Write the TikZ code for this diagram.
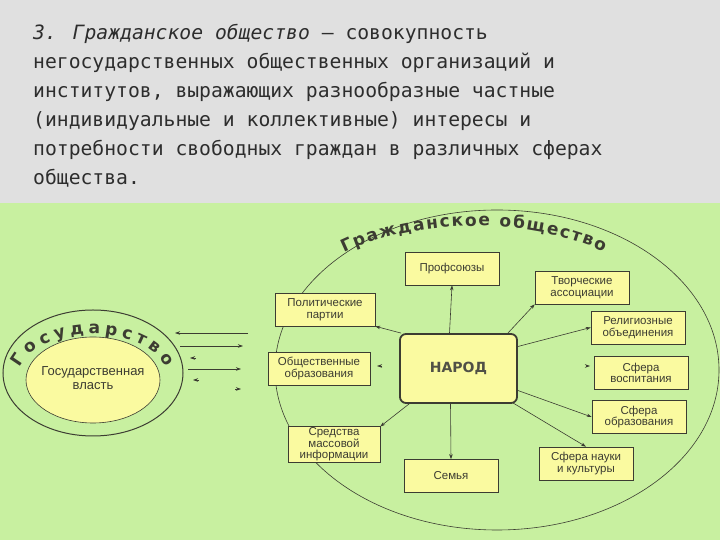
\documentclass[tikz,border=0pt]{standalone}
\usepackage{fontspec}
\setmainfont{Liberation Sans}
\newfontfamily\monof{DejaVu Sans Mono}
\newfontfamily\boldf{DejaVu Sans}
\usetikzlibrary{decorations.text,arrows.meta}
\definecolor{bggreen}{RGB}{200,240,160}
\definecolor{bggray}{RGB}{224,224,224}
\definecolor{boxy}{RGB}{250,250,160}
\definecolor{ink}{RGB}{60,60,50}
\definecolor{ttl}{RGB}{45,45,45}
\begin{document}
\begin{tikzpicture}[x=1pt,y=1pt,
  box/.style={draw=ink,fill=boxy,line width=0.6pt,minimum width=94pt,minimum height=33pt,inner sep=1pt,align=center,font=\fontsize{11.5}{11.5}\selectfont,text=ink},
  arr/.style={draw=ink,line width=0.6pt,-{Stealth[length=5pt,width=3.5pt]}},
  tline/.style={anchor=base west,inner sep=0pt,text=ttl,font=\monof\fontsize{19.7}{20}\selectfont}]
\useasboundingbox (0,0) rectangle (720,540);
\fill[bggray] (0,337) rectangle (720,540);
\fill[bggreen] (0,0) rectangle (720,337);
% title
\node[tline] (t1) at (33,500) {\itshape 3. Гражданское общество\upshape{} – совокупность};
\node[tline] (t2) at (33,471) {негосударственных общественных организаций и};
\node[tline] (t3) at (33,442) {институтов, выражающих разнообразные частные};
\node[tline] (t4) at (33,413) {(индивидуальные и коллективные) интересы и};
\node[tline] (t5) at (33,384) {потребности свободных граждан в различных сферах};
\node[tline] (t6) at (33,355) {общества.};
% ellipses
\draw[ink,line width=0.6pt] (497,170) ellipse [x radius=222,y radius=160];
\draw[ink,line width=1pt] (93,167) ellipse [x radius=90,y radius=63];
\draw[ink,line width=0.6pt,fill=boxy] (93,160) ellipse [x radius=67,y radius=43];
\node[font=\fontsize{13}{14}\selectfont,text=ink,align=center] (gv) at (93,162) {Государственная\\власть};
% curved texts
\path[decorate,decoration={text along path,text align=fit to path,
  text={|\boldf\bfseries\fontsize{17}{17}\selectfont\color{ink}|Гражданское общество}}]
  (475,204) ++(131:200 and 110) arc [start angle=131,end angle=50,x radius=200,y radius=110];
\path[decorate,decoration={text along path,text align=fit to path,
  text={|\boldf\bfseries\fontsize{17}{17}\selectfont\color{ink}|Государство}}]
  (93,160) ++(164:76 and 46) arc [start angle=164,end angle=16,x radius=76,y radius=46];
% boxes
\node[box,draw=ink,line width=1.8pt,rounded corners=6pt,minimum width=117pt,minimum height=69pt,font=\boldf\bfseries\fontsize{14}{14}\selectfont,text=ink!90] (nar) at (458.5,171.5) {НАРОД};
\node[box] (prof) at (452,271.5) {Профсоюзы};
\node[box] (tvor) at (582,252.5) {Творческие\\ассоциации};
\node[box] (rel) at (638,212.5) {Религиозные\\объединения};
\node[box] (vosp) at (641,167) {Сфера\\воспитания};
\node[box] (obr) at (639,123) {Сфера\\образования};
\node[box] (nauk) at (586,76.5) {Сфера науки\\и культуры};
\node[box] (sem) at (451,64) {Семья};
\node[box,minimum width=100pt] (pol) at (325,230.5) {Политические\\партии};
\node[box,minimum width=102pt] (obsh) at (319,171.5) {Общественные\\образования};
\node[box,minimum width=92pt] (smi) at (334,95.5) {Средства\\массовой\\информации};
% arrows from НАРОД
\draw[arr] (nar.north west) ++(2,0) -- (pol.south east);
\draw[arr] (nar.north) ++(-9,0) -- (prof.south);
\draw[arr] (nar.north east) ++(-10,0) -- (tvor.south west);
\draw[arr] (nar.east) ++(0,22) -- (rel.west);
\draw[arr] (nar.east) ++(0,-22) -- (obr.west);
\draw[arr] (nar.south east) ++(-5,1) -- (nauk.north);
\draw[arr] (nar.south) ++(-8,0) -- (sem.north);
\draw[arr] (nar.south west) ++(10,0) -- (smi.north east);
\coordinate (va) at (586,174); \coordinate (vb) at (590,174);
\draw[arr] (va) -- (vb);
\coordinate (oa) at (382,174); \coordinate (ob) at (377,174);
\draw[arr] (oa) -- (ob);
% arrows between state and society
\coordinate (a1) at (248,207); \coordinate (b1) at (175,207);
\coordinate (a2) at (180,194); \coordinate (b2) at (243,194);
\coordinate (a3) at (196,182); \coordinate (b3) at (190,182);
\coordinate (a4) at (188,171); \coordinate (b4) at (241,171);
\coordinate (a5) at (199,160); \coordinate (b5) at (193,160);
\coordinate (a6) at (235,151); \coordinate (b6) at (241,151);
\draw[arr] (a1) -- (b1);
\draw[arr] (a2) -- (b2);
\draw[arr] (a3) -- (b3);
\draw[arr] (a4) -- (b4);
\draw[arr] (a5) -- (b5);
\draw[arr] (a6) -- (b6);
\end{tikzpicture}
\end{document}
